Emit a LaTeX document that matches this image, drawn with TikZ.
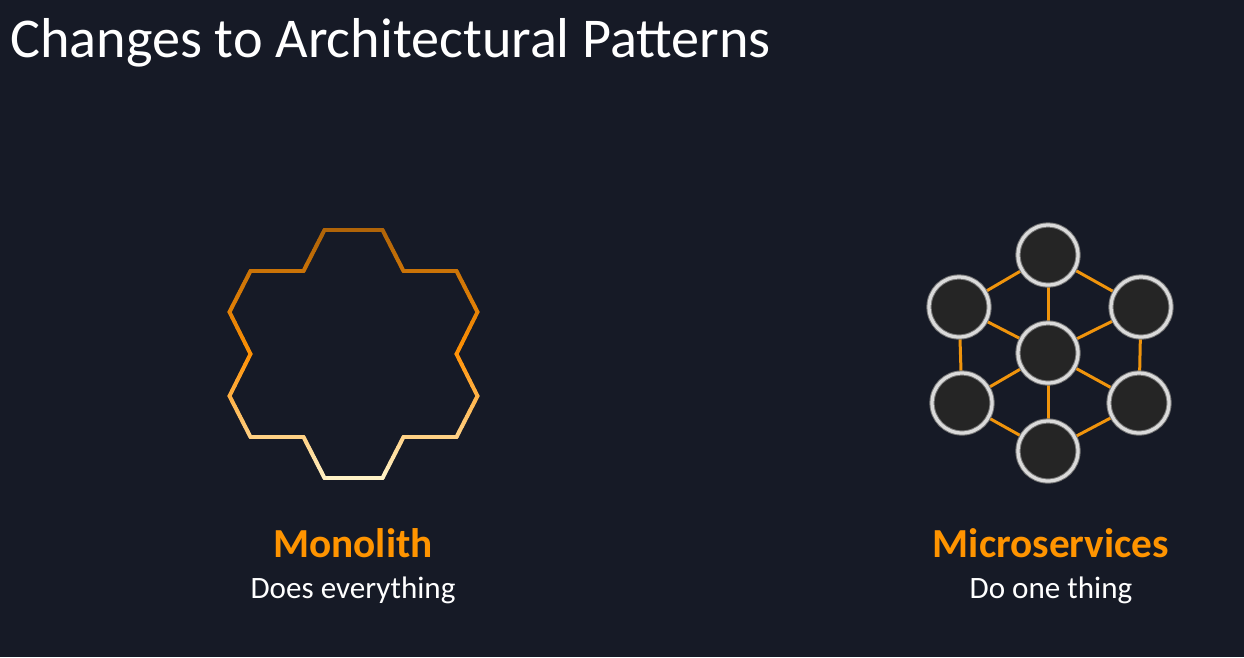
\documentclass[tikz,border=0pt]{standalone}
\usepackage{fontspec}
\setmainfont{Carlito}
\usepackage{tikz}
\usetikzlibrary{positioning,calc,backgrounds}
\definecolor{fundoEscuro}{RGB}{22,26,38}
\definecolor{laranjaAWS}{RGB}{255,148,0}
\definecolor{laranjaLinha}{RGB}{240,148,12}
\definecolor{topoHex}{RGB}{176,100,8}
\definecolor{meioHex}{RGB}{255,145,5}
\definecolor{baseHex}{RGB}{255,242,198}
\definecolor{servicoFundo}{RGB}{37,37,37}
\definecolor{anelClaro}{RGB}{218,218,218}
\definecolor{cinzaBorda}{RGB}{120,120,120}
\tikzset{
  titulo/.style={anchor=base west, inner sep=0pt, text=white,
                 font=\fontsize{32}{36}\selectfont},
  rotulo/.style={anchor=base, inner sep=0pt, text=laranjaAWS,
                 font=\fontsize{23.5}{26}\selectfont\bfseries},
  legenda/.style={anchor=base, inner sep=0pt, text=white,
                  font=\fontsize{17.7}{20}\selectfont},
  servico/.style={circle, minimum size=1.2cm, inner sep=0pt, fill=servicoFundo,
                  draw=cinzaBorda, line width=0.02cm,
                  double=anelClaro, double distance=0.065cm},
  ligacao/.style={draw=laranjaLinha, line width=0.06cm},
  contorno/.style={line width=0.08cm, line cap=round},
}

\begin{document}
\begin{tikzpicture}[x=0.02cm, y=-0.02cm]
  \begin{scope}[on background layer]
    \fill[fundoEscuro] (0,0) rectangle (1244,657);
  \end{scope}

  \node[titulo] (cabecalho) at (10,57) {Changes to Architectural Patterns};

  % monolito: contorno com degrade vertical
  \begin{scope}[shift={(353.5,354)}]
    \foreach \xa/\ya/\xb/\yb in {-29/-124/29/-124, 29/-124/50/-83, 50/-83/103/-83,
        103/-83/124/-42, 124/-42/103/0, 103/0/124/42, 124/42/103/83, 103/83/50/83,
        50/83/29/124, 29/124/-29/124, -29/124/-50/83, -50/83/-103/83,
        -103/83/-124/42, -124/42/-103/0, -103/0/-124/-42, -124/-42/-103/-83,
        -103/-83/-50/-83, -50/-83/-29/-124}{
      \foreach \k in {1,...,8}{
        \pgfmathsetmacro{\ym}{\ya+(\yb-\ya)*(\k-0.5)/8}
        \pgfmathtruncatemacro{\pa}{max(0,min(100,(\ym+124)/124*100))}
        \pgfmathtruncatemacro{\pb}{max(0,min(100,\ym/124*100))}
        \colorlet{tomA}{meioHex!\pa!topoHex}
        \colorlet{tomB}{baseHex!\pb!tomA}
        \draw[contorno, tomB]
          ({\xa+(\xb-\xa)*(\k-1)/8}, {\ya+(\yb-\ya)*(\k-1)/8}) --
          ({\xa+(\xb-\xa)*\k/8}, {\ya+(\yb-\ya)*\k/8});
      }
    }
  \end{scope}

  \node[rotulo] (mono) at (353,557) {Monolith};
  \node[legenda] (monoTxt) at ($(mono.base)+(0,41)$) {Does everything};

  % microsservicos
  \node[servico] (svTopo)   at (1048,255) {};
  \node[servico] (svSupEsq) at (959,307)  {};
  \node[servico] (svSupDir) at (1141,307) {};
  \node[servico] (svCentro) at (1048,353) {};
  \node[servico] (svInfEsq) at (962,403)  {};
  \node[servico] (svInfDir) at (1139,403) {};
  \node[servico] (svBase)   at (1048,451) {};

  \begin{scope}[on background layer]
    \foreach \a/\b in {svTopo/svSupEsq, svTopo/svSupDir, svTopo/svCentro,
        svSupEsq/svCentro, svSupDir/svCentro, svSupEsq/svInfEsq, svSupDir/svInfDir,
        svCentro/svInfEsq, svCentro/svInfDir, svCentro/svBase,
        svInfEsq/svBase, svInfDir/svBase}
      \draw[ligacao] (\a) -- (\b);
  \end{scope}

  \node[rotulo] (micro) at (1051,557) {Microservices};
  \node[legenda] (microTxt) at ($(micro.base)+(0,41)$) {Do one thing};
\end{tikzpicture}
\end{document}
